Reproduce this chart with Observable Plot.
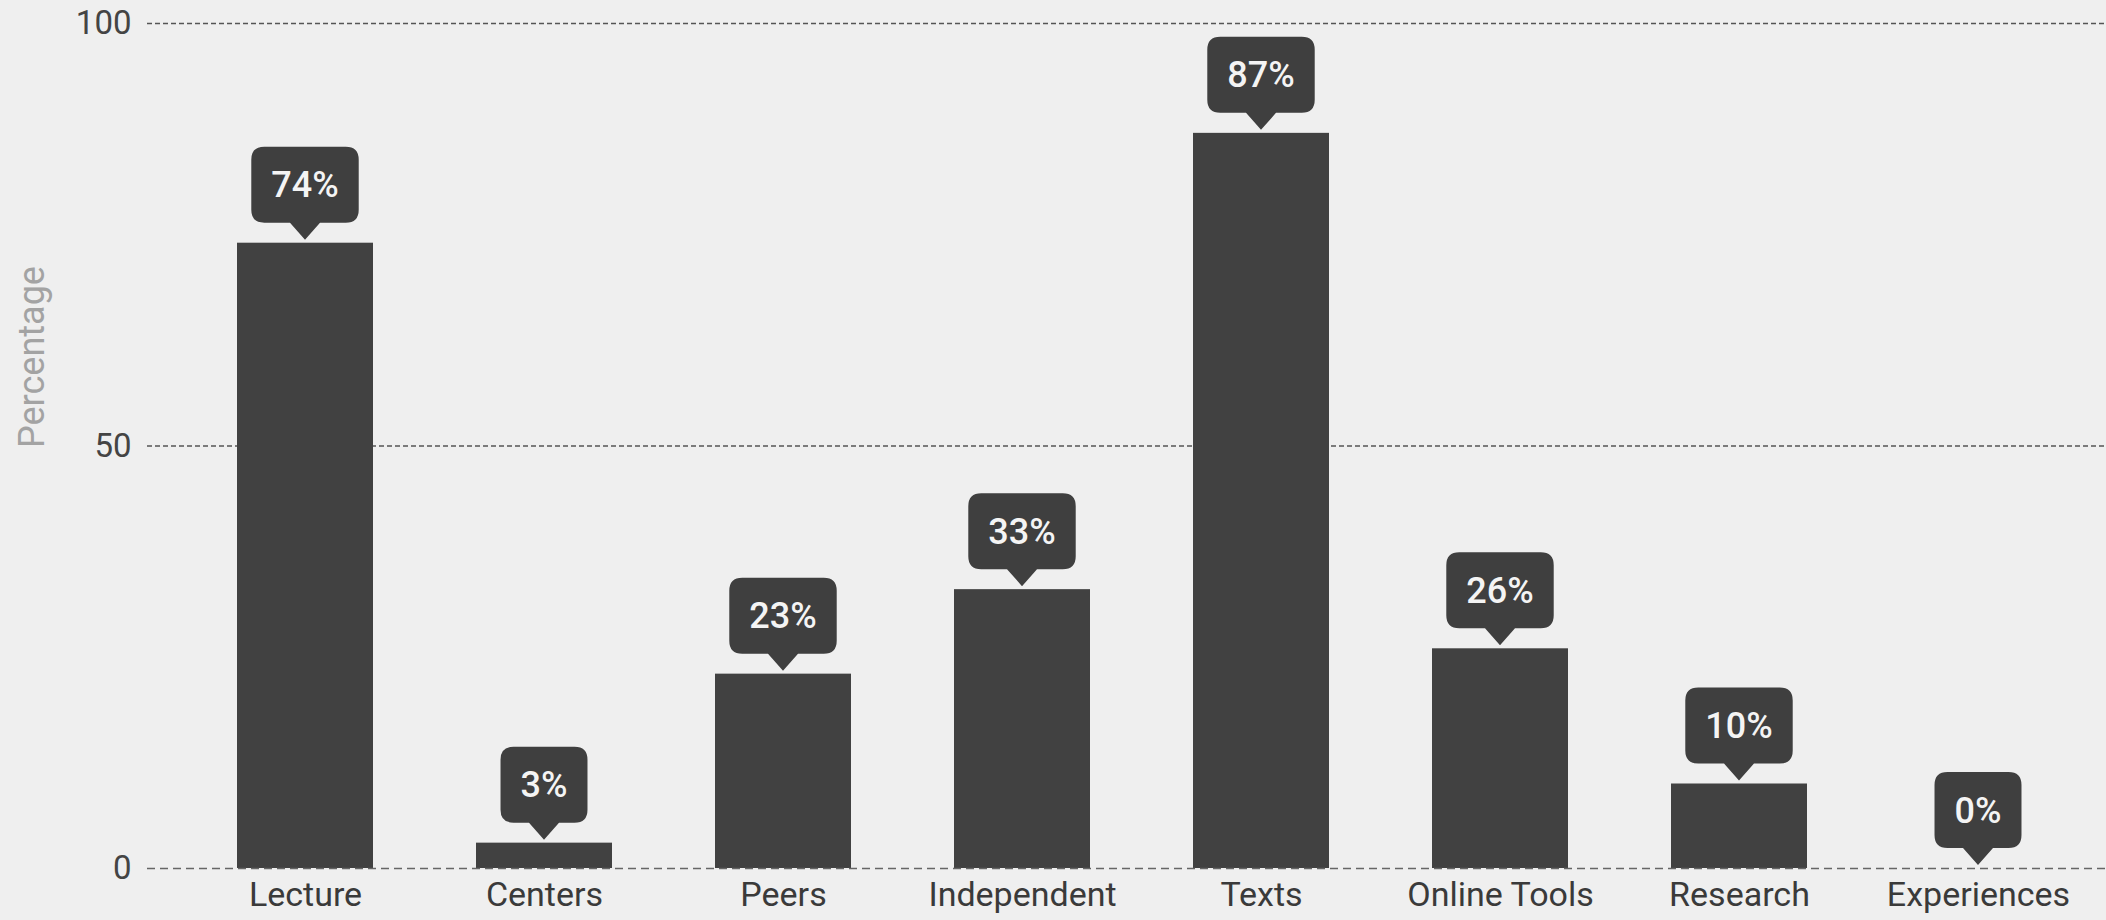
<!DOCTYPE html>
<html><head><meta charset="utf-8">
<script src="https://cdn.jsdelivr.net/npm/d3@7"></script>
<script src="https://cdn.jsdelivr.net/npm/@observablehq/plot@0.6"></script>
<style>
html,body{margin:0;padding:0;background:#efefef;}
#chart{width:2106px;height:920px;}
</style></head><body><div id="chart"></div>
<script>
const categories = ["Lecture","Centers","Peers","Independent","Texts","Online Tools","Research","Experiences"];
const percentages = [74,3,23,33,87,26,10,0];
const yTicks = [0,50,100];
const gridValues = [50,100];
const zeroLine = [0];
const axisTitle = "Percentage";

const data = categories.map((c,i)=>({category:c, value:percentages[i], label: percentages[i]+"%"}));

const FONT = "Roboto, 'Liberation Sans', sans-serif";
const bubbleFont = `500 36px ${FONT}`;
const ctx = document.createElement("canvas").getContext("2d");
ctx.font = bubbleFont;

const bubbles = Plot.dot(data, {x:"category", y:"value", render(index, scales, values) {
  const bw = scales.x && scales.x.bandwidth ? scales.x.bandwidth()/2 : 0;
  const g = d3.create("svg:g");
  for (const i of index) {
    const cx = values.x[i] + bw;
    const tip = values.y[i] - 3;
    const ph = 17, pw = 15, h = 76, r = 13;
    const w = ctx.measureText(data[i].label).width + 40;
    const bottom = tip - ph, top = bottom - h, left = cx - w/2, right = cx + w/2;
    const p = `M${cx},${tip} L${cx-pw},${bottom} H${left+r} Q${left},${bottom} ${left},${bottom-r} V${top+r} Q${left},${top} ${left+r},${top} H${right-r} Q${right},${top} ${right},${top+r} V${bottom-r} Q${right},${bottom} ${right-r},${bottom} H${cx+pw} Z`;
    g.append("path").attr("d", p).attr("fill", "#3f3f3f");
    g.append("text").attr("x", cx).attr("y", top + h/2).attr("dy","0.35em")
      .attr("text-anchor","middle").attr("fill","#f4f4f4").style("font", bubbleFont).text(data[i].label);
  }
  return g.node();
}});

const chart = Plot.plot({
  width: 2106, height: 920,
  marginLeft: 147, marginRight: 0, marginTop: 23, marginBottom: 52,
  style: {background: "#efefef", fontFamily: FONT, color: "#444"},
  x: {domain: categories, range: [184, 2100], paddingInner: 0.43, paddingOuter: 0.215, label: null},
  y: {domain: [0,100], label: null},
  marks: [
    Plot.ruleY(gridValues, {stroke:"#555", strokeWidth:1.3, strokeDasharray:"5,3"}),
    Plot.barY(data, {x:"category", y:"value", fill:"#414141"}),
    Plot.ruleY(zeroLine, {stroke:"#666", strokeWidth:1.5, strokeDasharray:"8,5"}),
    bubbles,
    Plot.axisX({tickSize:0, tickPadding:13, fontSize:34, label:null, color:"#3a3a3a"}),
    Plot.axisY({ticks: yTicks, tickSize:0, tickPadding:16, fontSize:33, label:null, color:"#444"})
  ]
});
document.getElementById("chart").appendChild(chart);

// y-axis title, placed as in the reference
d3.select(chart).append("text")
  .attr("transform", "translate(31,357) rotate(-90)")
  .attr("dy", "0.35em")
  .attr("text-anchor", "middle")
  .attr("fill", "#a3a3a3")
  .style("font", `36px ${FONT}`)
  .text(axisTitle);
</script>
</body></html>
